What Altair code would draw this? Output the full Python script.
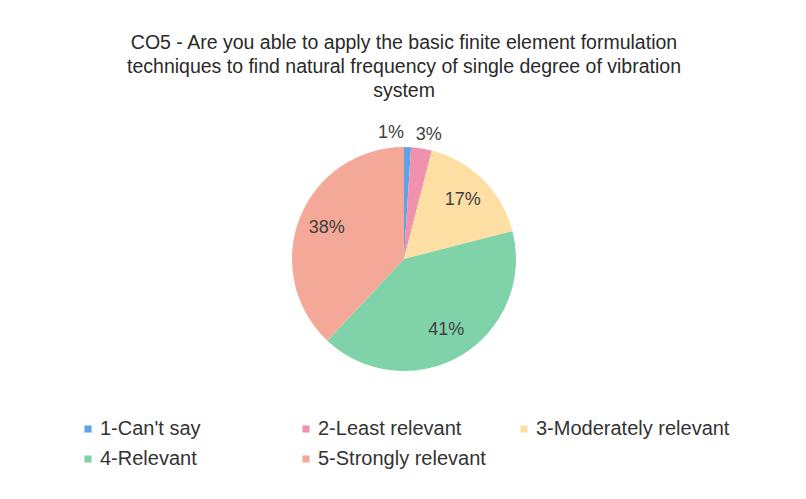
import altair as alt
import pandas as pd

categories = ["1-Can't say", "2-Least relevant", "3-Moderately relevant", "4-Relevant", "5-Strongly relevant"]
values = [1, 3, 17, 41, 38]
colors = ["#5fa3e6", "#f092ad", "#fddfa3", "#80d3a8", "#f4a898"]
title_lines = [
    "CO5 - Are you able to apply the basic finite element formulation",
    "techniques to find natural frequency of single degree of vibration",
    "system",
]

df = pd.DataFrame({"category": categories, "value": values, "order": list(range(len(values)))})
df["label"] = df["value"].astype(str) + "%"

base = alt.Chart(df).encode(
    theta=alt.Theta("value:Q", stack=True),
    order=alt.Order("order:Q"),
)

pie = base.mark_arc(outerRadius=112).encode(
    color=alt.Color(
        "category:N",
        sort=categories,
        scale=alt.Scale(domain=categories, range=colors),
        legend=alt.Legend(
            title=None,
            orient="none",
            legendX=54,
            legendY=290,
            direction="horizontal",
            columns=3,
            gridAlign="all",
            columnPadding=2,
            rowPadding=10,
            symbolType="square",
            symbolSize=50,
            symbolStrokeWidth=0,
            labelOffset=2,
            labelFont="Liberation Sans",
            labelFontSize=20,
            labelColor="#333333",
            labelLimit=400,
        ),
    )
)

txt_style = dict(font="Liberation Sans", fontSize=18, color="#404040")

inner = base.transform_calculate(
    t="datum.value >= 10 ? datum.label : ''"
).mark_text(radius=83, **txt_style).encode(text="t:N")

lab1 = base.transform_calculate(
    t="datum.order == 0 ? datum.label : ''"
).mark_text(radius=126, dx=-17, **txt_style).encode(text="t:N")

lab3 = base.transform_calculate(
    t="datum.order == 1 ? datum.label : ''"
).mark_text(radius=126, dx=5, **txt_style).encode(text="t:N")

chart = alt.layer(pie, inner, lab1, lab3).properties(
    width=760,
    height=260,
    padding={"left": 16, "right": 14, "top": 24, "bottom": 10},
    background="white",
    title=alt.TitleParams(
        text=title_lines,
        anchor="middle",
        font="Liberation Sans",
        fontSize=19.5,
        fontWeight="normal",
        color="#2a2a2a",
        lineHeight=24,
        offset=23,
    ),
).configure_view(stroke=None)

chart.save("out.html", embed_options={"renderer": "svg", "actions": False})
